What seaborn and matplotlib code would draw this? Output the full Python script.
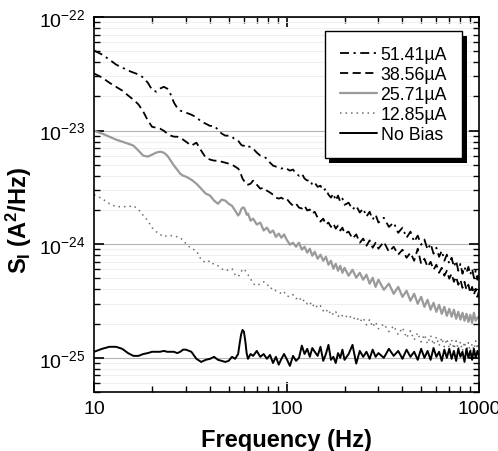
import numpy as np
import pandas as pd
import matplotlib
matplotlib.use("Agg")
import matplotlib.pyplot as plt
import matplotlib.patheffects as pe
from matplotlib.ticker import LogLocator, NullFormatter
import seaborn as sns

# frequency grid (Hz), shared by all spectra
freq_hz = [10, 11, 12, 13, 14, 15, 16, 17, 18, 19, 20, 21, 22, 23, 24, 25, 26, 27, 28, 29, 30,
           32, 34, 36, 38, 40, 42, 44, 46, 48, 50, 52, 54, 56, 57, 58, 59, 60, 61, 62, 63, 65, 67,
           70, 73, 76, 79, 82, 85, 88, 91, 94, 97, 100,
           104, 108, 112, 116, 120, 124, 128, 132, 136, 140, 145, 150, 155, 160, 165, 170, 175,
           180, 185, 190, 195, 200,
           210, 220, 230, 240, 250, 260, 270, 280, 290, 300,
           320, 340, 360, 380, 400, 420, 440, 460, 480, 500, 520, 540, 560, 580, 600, 620, 640,
           660, 680, 700, 720, 740, 760, 780, 800, 820, 840, 860, 880, 900, 920, 940, 960, 980, 1000]

# current noise spectra, in units of 1e-24 A^2/Hz
s_51uA = [50.7, 46.7, 42.2, 38.1, 35.9, 33.8, 32.4, 31.2, 29.3, 26.4, 22.9, 22.0, 23.4, 24.3, 23.4, 20.8, 17.6, 15.9, 15.0, 14.7, 14.4,
          13.8, 13.1, 12.0, 11.5, 11.0, 11.0, 10.2, 9.41, 9.03, 9.03, 8.84, 8.33, 8.16, 7.83, 7.53, 7.37, 7.37, 7.22, 7.37, 7.22, 7.22, 6.94,
          6.40, 6.02, 5.90, 5.67, 5.22, 4.92, 4.82, 4.72, 4.63, 4.72, 4.63,
          4.44, 4.54, 4.18, 4.01, 4.18, 3.78, 3.63, 3.70, 3.34, 3.48, 3.20, 3.27, 2.96, 3.08, 2.73, 2.57, 2.79,
          2.42, 2.68, 2.36, 2.52, 2.22,
          2.32, 2.02, 2.18, 1.90, 2.06, 1.75, 1.93, 1.65, 1.82, 1.55,
          1.71, 1.42, 1.55, 1.26, 1.40, 1.14, 1.29, 1.05, 1.19, 0.99, 1.10, 0.895, 1.01, 0.825, 0.931, 0.775, 0.876,
          0.715, 0.809, 0.673, 0.760, 0.632, 0.715, 0.584, 0.673, 0.550, 0.632, 0.561, 0.632, 0.539, 0.608, 0.507, 0.584, 0.487, 0.561]

s_38uA = [31.8, 29.3, 26.4, 24.3, 22.5, 20.4, 18.7, 17.0, 14.7, 12.3, 10.8, 10.6, 10.4, 9.98, 9.41, 9.03, 8.84, 8.84, 8.67, 8.33, 7.99,
          7.37, 7.83, 6.66, 5.78, 5.56, 5.44, 5.44, 5.32, 5.22, 5.12, 5.02, 4.82, 4.63, 4.44, 4.10, 3.78, 3.63, 3.48, 3.34, 3.34, 3.41, 3.63,
          3.34, 3.08, 3.14, 2.96, 2.85, 2.73, 2.57, 2.52, 2.57, 2.47, 2.52,
          2.32, 2.18, 2.27, 2.10, 2.06, 2.18, 1.98, 2.02, 1.86, 1.93, 1.71, 1.58, 1.68, 1.49, 1.55, 1.42, 1.52,
          1.37, 1.46, 1.32, 1.40, 1.24,
          1.29, 1.12, 1.22, 1.03, 1.12, 0.970, 1.08, 0.931, 1.03, 0.913,
          1.05, 0.858, 0.950, 0.809, 0.895, 0.760, 0.842, 0.715, 0.913, 0.673, 0.745, 0.632, 0.700, 0.596, 0.660, 0.561, 0.620,
          0.528, 0.584, 0.497, 0.550, 0.467, 0.517, 0.440, 0.487, 0.413, 0.467, 0.397, 0.440, 0.373, 0.421, 0.359, 0.405, 0.344, 0.389]

s_25uA = [9.98, 9.41, 8.84, 8.33, 7.99, 7.68, 7.37, 6.66, 6.02, 5.90, 6.14, 6.40, 6.52, 6.40, 6.02, 5.44, 4.92, 4.54, 4.18, 4.01, 3.93,
          3.70, 3.41, 3.08, 2.79, 2.68, 2.42, 2.27, 2.47, 2.42, 2.27, 2.18, 1.98, 1.79, 1.86, 2.02, 2.10, 2.10, 1.98, 1.82, 1.86, 1.61, 1.68,
          1.49, 1.55, 1.32, 1.40, 1.26, 1.32, 1.16, 1.24, 1.14, 1.22, 1.10,
          0.99, 1.03, 0.950, 1.03, 0.895, 0.950, 0.842, 0.913, 0.792, 0.858, 0.745, 0.809, 0.715, 0.775, 0.660, 0.715, 0.608,
          0.673, 0.584, 0.646, 0.561, 0.620,
          0.528, 0.596, 0.507, 0.561, 0.487, 0.539, 0.449, 0.507, 0.421, 0.487,
          0.397, 0.449, 0.366, 0.421, 0.344, 0.389, 0.318, 0.366, 0.299, 0.344, 0.281, 0.324, 0.265, 0.305, 0.254, 0.293, 0.244,
          0.281, 0.234, 0.270, 0.230, 0.265, 0.221, 0.254, 0.217, 0.249, 0.212, 0.244, 0.207, 0.239, 0.203, 0.249, 0.212, 0.225, 0.230]

s_12uA = [2.73, 2.52, 2.27, 2.14, 2.14, 2.14, 2.18, 2.02, 1.79, 1.61, 1.40, 1.29, 1.22, 1.16, 1.19, 1.19, 1.19, 1.16, 1.14, 1.08, 1.01,
          0.913, 0.876, 0.730, 0.687, 0.715, 0.660, 0.646, 0.608, 0.584, 0.596, 0.608, 0.539, 0.517, 0.539, 0.572, 0.596, 0.608, 0.584,
          0.561, 0.539, 0.497, 0.449,
          0.431, 0.449, 0.467, 0.449, 0.405, 0.413, 0.389, 0.381, 0.366, 0.381, 0.351,
          0.344, 0.359, 0.331, 0.344, 0.311, 0.324, 0.299, 0.311, 0.281, 0.299, 0.275, 0.287, 0.259, 0.270, 0.244, 0.259, 0.239,
          0.254, 0.230, 0.244, 0.234, 0.225,
          0.239, 0.217, 0.230, 0.207, 0.225, 0.195, 0.217, 0.187, 0.207, 0.180,
          0.199, 0.170, 0.191, 0.160, 0.184, 0.150, 0.173, 0.144, 0.166, 0.138, 0.160, 0.133, 0.157, 0.130, 0.153, 0.128, 0.150,
          0.125, 0.147, 0.122, 0.144, 0.120, 0.141, 0.118, 0.138, 0.115, 0.138, 0.113, 0.136, 0.113, 0.133, 0.118, 0.141, 0.120, 0.138]

s_nobias = [0.113, 0.120, 0.125, 0.125, 0.120, 0.110, 0.104, 0.104, 0.108, 0.110, 0.113, 0.113, 0.113, 0.115, 0.113, 0.113, 0.113, 0.110, 0.113, 0.118, 0.118,
            0.113, 0.098, 0.092, 0.096, 0.098, 0.102, 0.096, 0.094, 0.092, 0.094, 0.102, 0.098, 0.108, 0.133, 0.160, 0.176, 0.170, 0.141,
            0.110, 0.098, 0.108, 0.104,
            0.115, 0.102, 0.108, 0.098, 0.106, 0.090, 0.102, 0.087, 0.098, 0.108, 0.098,
            0.085, 0.104, 0.094, 0.100, 0.128, 0.108, 0.120, 0.102, 0.122, 0.113, 0.104, 0.125, 0.094, 0.108, 0.130, 0.096, 0.102,
            0.090, 0.110, 0.100, 0.118, 0.096,
            0.108, 0.130, 0.089, 0.115, 0.102, 0.113, 0.098, 0.118, 0.102, 0.110,
            0.100, 0.120, 0.104, 0.115, 0.098, 0.118, 0.102, 0.113, 0.096, 0.120, 0.100, 0.115, 0.096, 0.122, 0.102, 0.113, 0.094,
            0.118, 0.100, 0.120, 0.098, 0.115, 0.094, 0.120, 0.102, 0.113, 0.092, 0.120, 0.100, 0.115, 0.096, 0.120, 0.100, 0.115, 0.102]

labels = ["51.41\u00b5A", "38.56\u00b5A", "25.71\u00b5A", "12.85\u00b5A", "No Bias"]
spectra = [s_51uA, s_38uA, s_25uA, s_12uA, s_nobias]

# colour, linestyle, linewidth per curve
line_styles = [
    ("black", (0, (5, 2.5, 1.2, 2.5)), 1.3),
    ("black", (0, (4.5, 2.5)), 1.3),
    ("#9a9a9a", "-", 1.6),
    ("#6e6e6e", (0, (1, 2.6)), 1.1),
    ("black", "-", 1.4),
]

sns.set_theme(style="ticks")
plt.rcParams["font.family"] = ["Liberation Sans", "DejaVu Sans"]
plt.rcParams["mathtext.fontset"] = "custom"
plt.rcParams["mathtext.rm"] = "Liberation Sans"
plt.rcParams["mathtext.it"] = "Liberation Sans:italic"
plt.rcParams["mathtext.bf"] = "Liberation Sans:bold"
plt.rcParams["text.color"] = "black"
plt.rcParams["axes.labelcolor"] = "black"
plt.rcParams["xtick.color"] = "black"
plt.rcParams["ytick.color"] = "black"

fig = plt.figure(figsize=(4.98, 4.52), dpi=100)
ax = fig.add_axes([0.189, 0.1305, 0.773, 0.8297])
ax.set_xscale("log")
ax.set_yscale("log")

for label, vals, (col, ls, lw) in zip(labels, spectra, line_styles):
    df = pd.DataFrame({"f": freq_hz, "S": np.array(vals) * 1e-24})
    sns.lineplot(data=df, x="f", y="S", ax=ax, color=col, linestyle=ls,
                 linewidth=lw, label=label, estimator=None)

ax.set_xlim(10, 1000)
ax.set_ylim(5.0e-26, 1e-22)

# ticks: inside, on all four sides
ax.set_xticks([10, 100, 1000])
ax.set_xticklabels(["10", "100", "1000"])
ax.xaxis.set_minor_locator(LogLocator(base=10, subs=np.arange(2, 10), numticks=20))
ax.xaxis.set_minor_formatter(NullFormatter())
ax.yaxis.set_major_locator(LogLocator(base=10, numticks=10))
ax.yaxis.set_minor_locator(LogLocator(base=10, subs=np.arange(2, 10), numticks=20))
ax.yaxis.set_minor_formatter(NullFormatter())
ax.tick_params(which="both", direction="in", top=True, right=True, labelsize=14)
ax.tick_params(which="major", length=7, width=1.2, pad=6)
ax.tick_params(which="minor", length=4, width=1.0)
for sp in ax.spines.values():
    sp.set_linewidth(1.2)
    sp.set_color("black")

# horizontal grid only
ax.set_axisbelow(True)
ax.xaxis.grid(False, which="both")
ax.yaxis.grid(True, which="major", color="#b4b4b4", linewidth=0.8)
ax.yaxis.grid(True, which="minor", color="#ededed", linewidth=0.6)

ax.set_xlabel("Frequency (Hz)", fontsize=17, fontweight="bold", labelpad=8)
ax.set_ylabel(r"$\mathbf{S_I\ (A^2/Hz)}$", fontsize=17, labelpad=2)
ax.yaxis.set_label_coords(-0.155, 0.46)

leg = ax.legend(loc="upper right", bbox_to_anchor=(0.956, 0.963), borderaxespad=0,
                frameon=True, fancybox=False, edgecolor="black", framealpha=1,
                fontsize=12.8, handlelength=2.1, labelspacing=0.17, handletextpad=0.2,
                borderpad=0.85)
leg.get_frame().set_linewidth(1.0)
leg.get_frame().set_path_effects([
    pe.SimplePatchShadow(offset=(3.5, -3.5), shadow_rgbFace="black", alpha=1),
    pe.Normal()])

fig.savefig("out.png", dpi=100)
